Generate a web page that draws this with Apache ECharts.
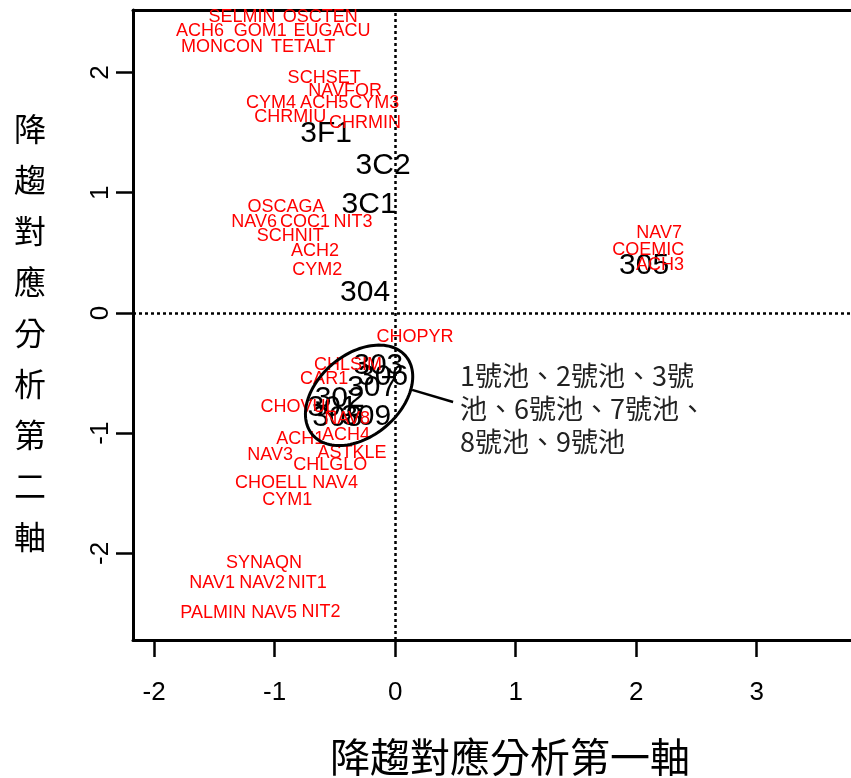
<!DOCTYPE html>
<html><head><meta charset="utf-8">
<script src="https://cdn.jsdelivr.net/npm/echarts@6/dist/echarts.min.js"></script>
<style>html,body{margin:0;padding:0;background:#fff}#c{width:851px;height:778px}</style>
</head><body><div id="c"></div>
<script>
// Species scores (red labels)
const speciesNames = ['SELMIN','OSCTEN','ACH6','GOM1','EUGACU','MONCON','TETALT','SCHSET','NAVFOR','CYM4','ACH5','CYM3','CHRMIU','CHRMIN',
  'OSCAGA','NAV6','COC1','NIT3','SCHNIT','ACH2','CYM2','NAV7','COEMIC','ACH3','CHOPYR','CHLSIM','CAR1','CHOVUL','NAV8','ACH1','ACH4',
  'ASTKLE','NAV3','CHLGLO','CHOELL','NAV4','CYM1','SYNAQN','NAV1','NAV2','NIT1','PALMIN','NAV5','NIT2'];
const speciesX = [-1.270,-0.622,-1.618,-1.120,-0.523,-1.436,-0.763,-0.589,-0.415,-1.029,-0.589,-0.174,-0.871,-0.249,
  -0.905,-1.170,-0.747,-0.349,-0.871,-0.664,-0.647,2.191,2.100,2.199,0.166,-0.390,-0.589,-0.805,-0.398,-0.788,-0.407,
  -0.357,-1.037,-0.539,-1.029,-0.498,-0.896,-1.087,-1.519,-1.104,-0.730,-1.510,-1.004,-0.614];
const speciesY = [2.461,2.461,2.344,2.344,2.344,2.211,2.211,1.953,1.845,1.746,1.746,1.746,1.629,1.579,
  0.881,0.756,0.756,0.756,0.640,0.515,0.357,0.665,0.524,0.399,-0.200,-0.432,-0.549,-0.781,-0.881,-1.047,-1.014,
  -1.164,-1.180,-1.264,-1.413,-1.413,-1.554,-2.078,-2.244,-2.244,-2.244,-2.494,-2.494,-2.485];
// Site scores (black labels)
const siteNames = ['3F1','3C2','3C1','304','305','303','306','307','302','301','308','309'];
const siteX = [-0.573,-0.100,-0.216,-0.249,2.066,-0.140,-0.100,-0.190,-0.460,-0.520,-0.480,-0.240];
const siteY = [1.488,1.222,0.898,0.166,0.391,-0.440,-0.530,-0.620,-0.710,-0.790,-0.870,-0.860];
const xTicks = [-2,-1,0,1,2,3];
const yTicks = [-2,-1,0,1,2];
const xTitle = '降趨對應分析第一軸';
const yTitle = '降趨對應分析第二軸';
// annotation
const ellipseCenter = [-0.299, -0.685];
const leaderLine = [[0.141,-0.64],[0.481,-0.74]];
const noteAnchor = [0.539, -0.387];
const noteText = '1號池、2號池、3號\n池、6號池、7號池、\n8號池、9號池';

const FONT = '"Liberation Sans", Arial, sans-serif';
const CJK = '"Noto Sans CJK TC", "Noto Sans CJK SC", sans-serif';

const chart = echarts.init(document.getElementById('c'), null, {renderer:'canvas'});
const labelSeries = (names, xs, ys, color, size, z) => ({
  type:'scatter', z:z, symbolSize:1, itemStyle:{color:'rgba(0,0,0,0)', opacity:1},
  data: names.map((n,i)=>({name:n, value:[xs[i], ys[i]]})),
  label:{show:true, position:'inside', formatter:'{b}', color:color, fontSize:size, fontFamily:FONT, textBorderWidth:0, opacity:1},
  emphasis:{disabled:true}, silent:true, animation:false
});
const lineStyle = {color:'#000', width:3};
const tickStyle = {show:true, inside:false, length:17, lineStyle:{color:'#000', width:2.5}};
chart.setOption({
  animation:false,
  grid:{left:133, top:10, right:0, height:630, show:false, containLabel:false},
  xAxis:[
    {type:'value', min:-2.175, max:3.783, position:'bottom',
     axisLine:{show:true, onZero:false, lineStyle:lineStyle},
     axisTick:Object.assign({customValues:xTicks}, tickStyle),
     axisLabel:{customValues:xTicks, margin:40, fontSize:26, color:'#000', fontFamily:FONT},
     splitLine:{show:false}},
    {type:'value', min:-2.175, max:3.783, position:'top',
     axisLine:{show:true, onZero:false, lineStyle:lineStyle},
     axisTick:{show:false}, axisLabel:{show:false}, splitLine:{show:false}}
  ],
  yAxis:{type:'value', min:-2.72, max:2.52, position:'left',
    axisLine:{show:true, onZero:false, lineStyle:lineStyle},
    axisTick:Object.assign({customValues:yTicks}, tickStyle),
    axisLabel:{customValues:yTicks, margin:19, rotate:90, fontSize:26, color:'#000', fontFamily:FONT},
    splitLine:{show:false}},
  graphic:[
    {type:'text', left:330, top:737, style:{text:xTitle, fontSize:40, fontFamily:CJK, fill:'#000'}},
    {type:'text', left:14, top:103, style:{text:yTitle.split('').join('\n'), fontSize:32, lineHeight:51, fontFamily:CJK, fill:'#000'}}
  ],
  series:[
    {type:'scatter', data:[], markLine:{silent:true, symbol:'none', label:{show:false},
      lineStyle:{type:[3,3], color:'#000', width:2.5}, data:[{xAxis:0},{yAxis:0}]}},
    labelSeries(siteNames, siteX, siteY, '#000', 30, 3),
    labelSeries(speciesNames, speciesX, speciesY, '#ff0000', 18, 4),
    {type:'custom', z:5, silent:true, data:[[0]], renderItem:function(params, api){
      const c = api.coord(ellipseCenter);
      const p1 = api.coord(leaderLine[0]);
      const p2 = api.coord(leaderLine[1]);
      const t = api.coord(noteAnchor);
      const a = 61, b = 41, th = 40*Math.PI/180;
      const pts = [];
      for (let k=0;k<120;k++){
        const u = k/120*2*Math.PI;
        const ex = a*Math.cos(u), ey = b*Math.sin(u);
        pts.push([c[0] + ex*Math.cos(th) - ey*Math.sin(th), c[1] - (ex*Math.sin(th) + ey*Math.cos(th))]);
      }
      return {type:'group', children:[
        {type:'polygon', shape:{points:pts}, style:{fill:'none', stroke:'#000', lineWidth:3}},
        {type:'line', shape:{x1:p1[0], y1:p1[1], x2:p2[0], y2:p2[1]}, style:{stroke:'#000', lineWidth:2.5}},
        {type:'text', x:t[0], y:t[1], style:{text:noteText, fontSize:27, lineHeight:33, fontFamily:CJK, fill:'#222', textVerticalAlign:'top'}}
      ]};
    }}
  ]
});
</script></body></html>
